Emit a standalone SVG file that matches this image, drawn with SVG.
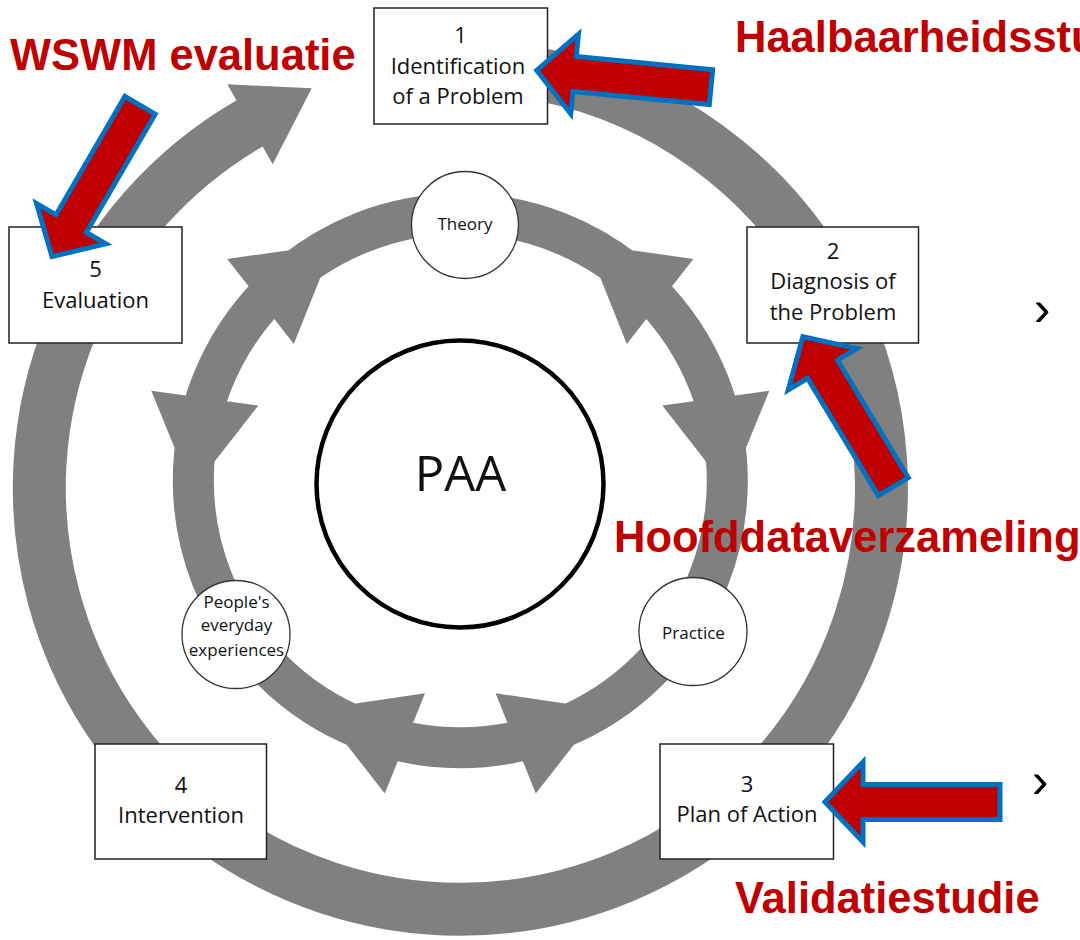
<svg xmlns="http://www.w3.org/2000/svg" width="1080" height="940" viewBox="0 0 1080 940">
<style>
.ring{fill:none;stroke:#808080}
.ah{fill:#808080}
.box rect{fill:#fff;stroke:#222;stroke-width:1.5}
.bt{font-family:"Open Sans","Noto Sans",sans-serif;font-size:22px;fill:#111;text-anchor:middle}
.node circle{fill:#fff;stroke:#333;stroke-width:1.3}
.nt{font-size:17px}
.big{font-size:49px}
.callout{fill:#C00000;stroke:#0070C0;stroke-width:5;stroke-linejoin:miter}
.lbl{font-family:"Liberation Sans",Arial,sans-serif;font-weight:bold;font-size:43.5px;fill:#C00000}
.chev{font-family:"Liberation Sans",Arial,sans-serif;font-size:50px;fill:#000;text-anchor:middle}
</style>
<defs>
<polygon id="blk" points="4,0 42,-40 42,-17.5 179,-17.5 179,17.5 42,17.5 42,40"/>
</defs>
<rect width="1080" height="940" fill="#fff"/>
<g id="connectors">
  <path class="ring" stroke-width="53" d="M 401.9 70.8 A 421.25 421.25 0 1 1 460.5 909.25 A 421.25 421.25 0 0 1 249.9 123.2"/>
  <polygon class="ah" points="227.3,84.3 311.7,88.3 272.7,164.3"/>
  <circle class="ring" stroke-width="41" cx="460.3" cy="480.7" r="267"/>
  <polygon class="ah" points="293.8,343.9 333.8,243.9 227.2,258.9"/>
  <polygon class="ah" points="151.3,390.8 192.0,490.5 258.3,405.6"/>
  <polygon class="ah" points="626.8,343.9 586.8,243.9 693.4,258.9"/>
  <polygon class="ah" points="769.3,390.8 728.6,490.5 662.3,405.6"/>
  <polygon class="ah" points="425.0,693.3 318.8,708.9 384.8,793.5"/>
  <polygon class="ah" points="495.6,693.3 601.8,708.9 535.8,793.5"/>
</g>
<g id="paa">
  <circle cx="460" cy="484" r="143.5" fill="#fff" stroke="#000" stroke-width="4.5"/>
  <text class="bt big" x="460.5" y="491">PAA</text>
</g>
<g id="theory" class="node">
  <circle cx="465" cy="225" r="53.5"/>
  <text class="bt nt" x="465" y="230">Theory</text>
</g>
<g id="practice" class="node">
  <circle cx="693" cy="631.5" r="54"/>
  <text class="bt nt" x="693.5" y="639">Practice</text>
</g>
<g id="people" class="node">
  <circle cx="236" cy="634.5" r="54"/>
  <text class="bt nt" x="236.5" y="608">People's</text>
  <text class="bt nt" x="236.5" y="631">everyday</text>
  <text class="bt nt" x="236.5" y="656">experiences</text>
</g>
<g id="box1" class="box">
  <rect x="374" y="8" width="173.5" height="116"/>
  <text class="bt" x="460.5" y="43">1</text>
  <text class="bt" x="458" y="74">Identification</text>
  <text class="bt" x="458" y="104">of a Problem</text>
</g>
<g id="box2" class="box">
  <rect x="747" y="227" width="171.5" height="116"/>
  <text class="bt" x="833" y="259">2</text>
  <text class="bt" x="833" y="289">Diagnosis of</text>
  <text class="bt" x="833" y="320">the Problem</text>
</g>
<g id="box3" class="box">
  <rect x="660" y="744" width="173.5" height="115"/>
  <text class="bt" x="747" y="792">3</text>
  <text class="bt" x="747" y="822">Plan of Action</text>
</g>
<g id="box4" class="box">
  <rect x="95" y="744" width="171.5" height="115"/>
  <text class="bt" x="181" y="793">4</text>
  <text class="bt" x="181" y="823">Intervention</text>
</g>
<g id="box5" class="box">
  <rect x="9" y="227" width="173" height="116"/>
  <text class="bt" x="95.5" y="277">5</text>
  <text class="bt" x="95.5" y="308">Evaluation</text>
</g>
<g id="callouts">
  <use href="#blk" class="callout" transform="translate(532.8,70) rotate(5.5)"/>
  <use href="#blk" class="callout" transform="translate(50,260) rotate(-59.8)"/>
  <use href="#blk" class="callout" transform="translate(800.8,333.3) rotate(58.9)"/>
  <use href="#blk" class="callout" transform="translate(821,802)"/>
</g>
<g id="labels">
  <text class="lbl" x="10" y="70">WSWM evaluatie</text>
  <text class="lbl" x="735" y="52">Haalbaarheidsstudie</text>
  <text class="lbl" x="614" y="552">Hoofddataverzameling</text>
  <text class="lbl" x="735" y="913">Validatiestudie</text>
  <text class="chev" x="1042" y="325">›</text>
  <text class="chev" x="1040" y="797">›</text>
</g>
</svg>
